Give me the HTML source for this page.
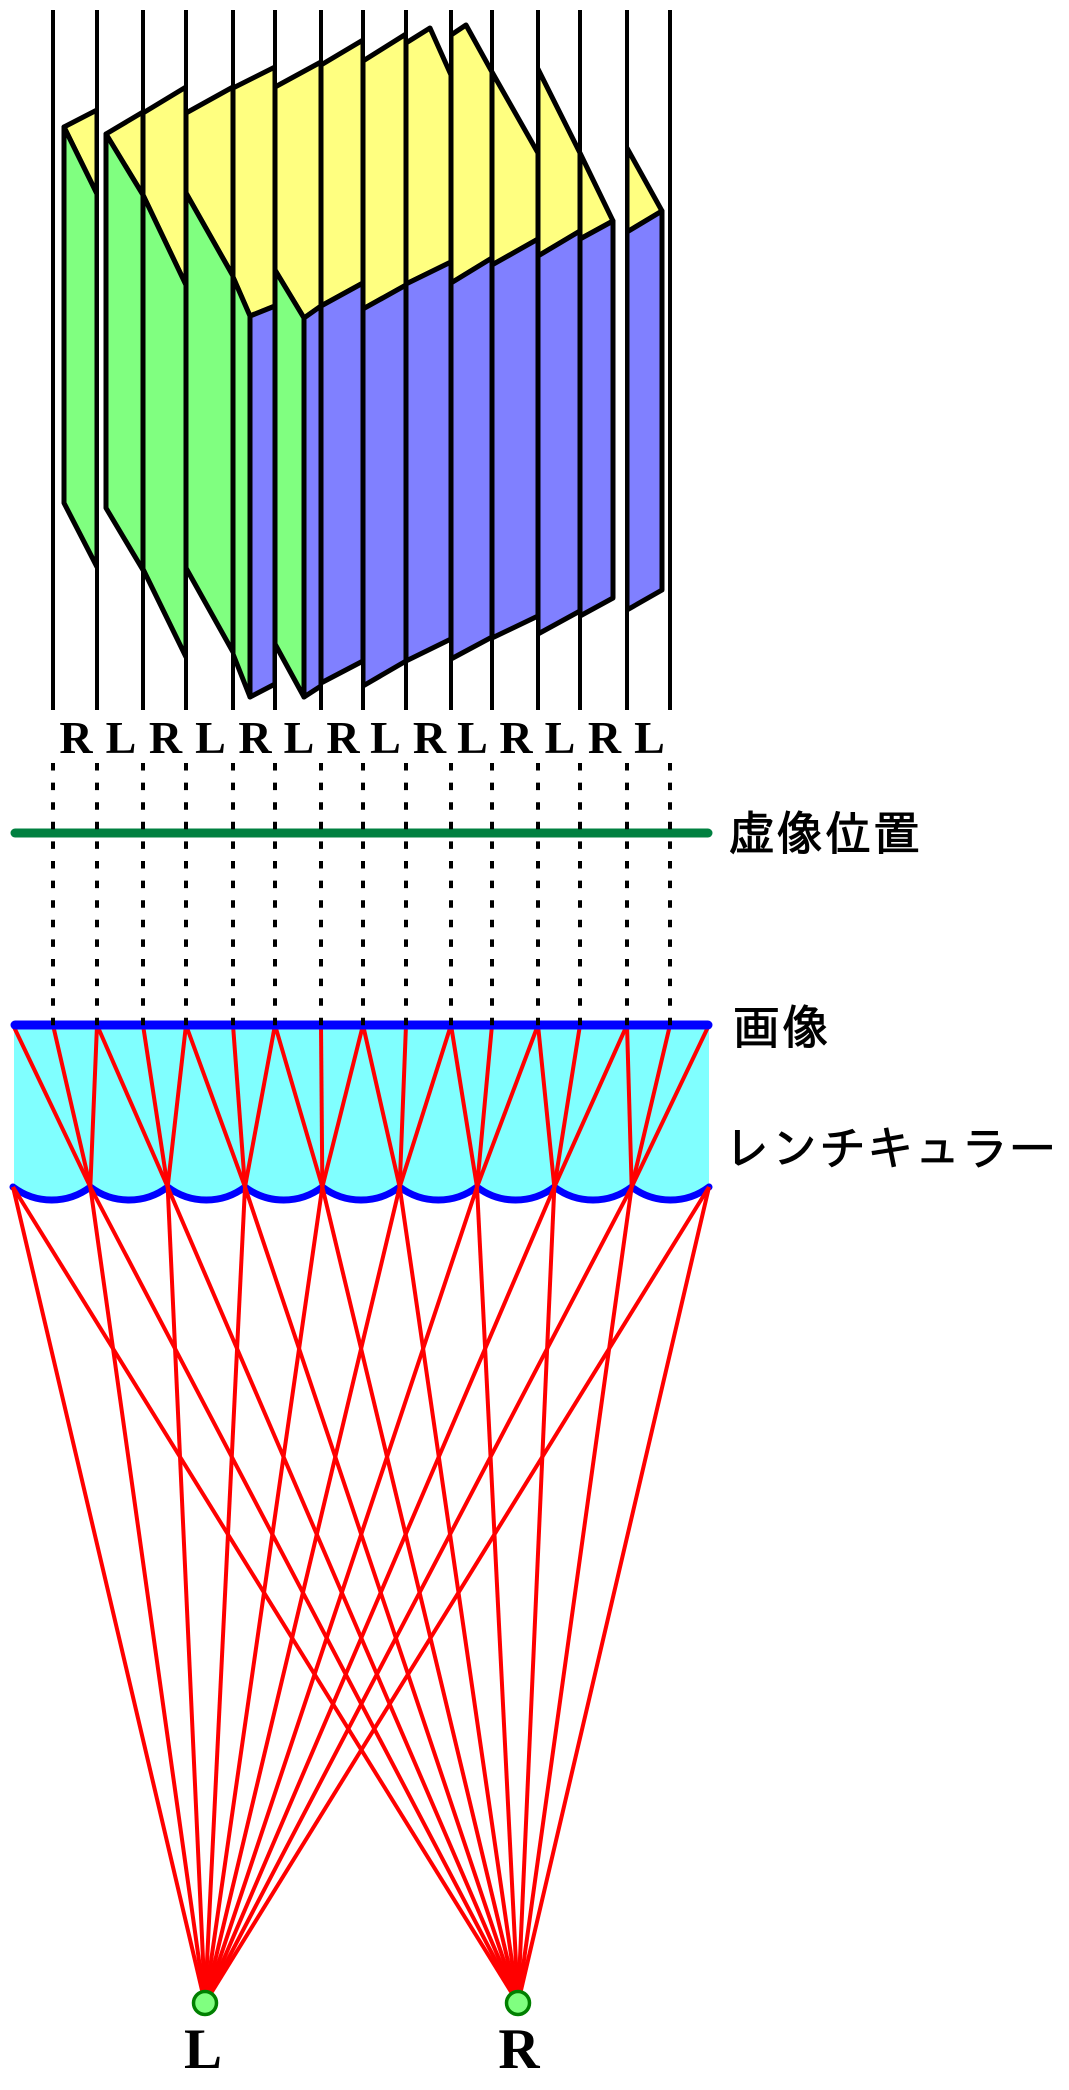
<!DOCTYPE html>
<html>
<head>
<meta charset="utf-8">
<style>
html,body{margin:0;padding:0;background:#fff;}
svg{display:block;}
.lbl{font-family:"Liberation Serif",serif;font-weight:bold;fill:#000;}
.jp{font-family:"Liberation Sans","IPAGothic","Noto Sans CJK JP",sans-serif;fill:#000;}
</style>
</head>
<body>
<svg width="1069" height="2090" viewBox="0 0 1069 2090" xmlns="http://www.w3.org/2000/svg">
<defs>
<clipPath id="s1"><rect x="53" y="0" width="44" height="720"/></clipPath>
<clipPath id="s2"><rect x="97" y="0" width="46" height="720"/></clipPath>
<clipPath id="s3"><rect x="143" y="0" width="43" height="720"/></clipPath>
<clipPath id="s4"><rect x="186" y="0" width="47" height="720"/></clipPath>
<clipPath id="s5"><rect x="233" y="0" width="42" height="720"/></clipPath>
<clipPath id="s6"><rect x="275" y="0" width="46" height="720"/></clipPath>
<clipPath id="s7"><rect x="321" y="0" width="42" height="720"/></clipPath>
<clipPath id="s8"><rect x="363" y="0" width="43" height="720"/></clipPath>
<clipPath id="s9"><rect x="406" y="0" width="45" height="720"/></clipPath>
<clipPath id="s10"><rect x="451" y="0" width="41" height="720"/></clipPath>
<clipPath id="s11"><rect x="492" y="0" width="46" height="720"/></clipPath>
<clipPath id="s12"><rect x="538" y="0" width="42" height="720"/></clipPath>
<clipPath id="s13"><rect x="580" y="0" width="47" height="720"/></clipPath>
<clipPath id="s14"><rect x="627" y="0" width="43" height="720"/></clipPath>
</defs>

<rect x="0" y="0" width="1069" height="2090" fill="#fff"/>

<!-- Box strips -->
<g stroke="#000" stroke-width="5" stroke-linejoin="round">
<g clip-path="url(#s1)">
<polygon fill="#ffff80" points="64,127 97,110 97,194"/>
<polygon fill="#80ff80" points="64,127 97,194 97,567 64,503"/>
</g>
<g clip-path="url(#s2)">
<polygon fill="#ffff80" points="106,134 143,112 143,195"/>
<polygon fill="#80ff80" points="106,134 143,195 143,570 106,508"/>
</g>
<g clip-path="url(#s3)">
<polygon fill="#ffff80" points="143,113 186,87 186,285 143,195"/>
<polygon fill="#80ff80" points="143,195 186,285 186,657 143,569"/>
</g>
<g clip-path="url(#s4)">
<polygon fill="#ffff80" points="186,113 233,87 233,276 186,193"/>
<polygon fill="#80ff80" points="186,193 233,276 233,652 186,568"/>
</g>
<g clip-path="url(#s5)">
<polygon fill="#ffff80" points="233,88 275,67 275,306 250,316 233,277"/>
<polygon fill="#80ff80" points="233,277 250,316 250,697 233,654"/>
<polygon fill="#8080ff" points="250,316 275,306 275,684 250,697"/>
</g>
<g clip-path="url(#s6)">
<polygon fill="#ffff80" points="275,87 321,62 321,306 304,318 275,270"/>
<polygon fill="#80ff80" points="275,270 304,318 304,697 275,644"/>
<polygon fill="#8080ff" points="304,318 321,306 321,686 304,697"/>
</g>
<g clip-path="url(#s7)">
<polygon fill="#ffff80" points="321,65 363,40 363,283 321,306"/>
<polygon fill="#8080ff" points="321,306 363,283 363,661 321,683"/>
</g>
<g clip-path="url(#s8)">
<polygon fill="#ffff80" points="363,61 406,34 406,285 363,309"/>
<polygon fill="#8080ff" points="363,309 406,285 406,661 363,686"/>
</g>
<g clip-path="url(#s9)">
<polygon fill="#ffff80" points="406,43 430,28 451,75 451,262 406,284"/>
<polygon fill="#8080ff" points="406,284 451,262 451,639 406,661"/>
</g>
<g clip-path="url(#s10)">
<polygon fill="#ffff80" points="451,35 466,25 492,72 492,258 451,283"/>
<polygon fill="#8080ff" points="451,283 492,258 492,637 451,659"/>
</g>
<g clip-path="url(#s11)">
<polygon fill="#ffff80" points="492,72 538,153 538,239 492,265"/>
<polygon fill="#8080ff" points="492,265 538,239 538,616 492,638"/>
</g>
<g clip-path="url(#s12)">
<polygon fill="#ffff80" points="538,69 580,153 580,231 538,256"/>
<polygon fill="#8080ff" points="538,256 580,231 580,611 538,634"/>
</g>
<g clip-path="url(#s13)">
<polygon fill="#ffff80" points="580,153 613,221 580,239"/>
<polygon fill="#8080ff" points="580,239 613,221 613,598 580,616"/>
</g>
<g clip-path="url(#s14)">
<polygon fill="#ffff80" points="627,148 662,211 627,232"/>
<polygon fill="#8080ff" points="627,232 662,211 662,590 627,610"/>
</g>
</g>

<!-- Separator lines -->
<g stroke="#000" stroke-width="4">
<line x1="53" y1="10" x2="53" y2="710"/>
<line x1="97" y1="10" x2="97" y2="710"/>
<line x1="143" y1="10" x2="143" y2="710"/>
<line x1="186" y1="10" x2="186" y2="710"/>
<line x1="233" y1="10" x2="233" y2="710"/>
<line x1="275" y1="10" x2="275" y2="710"/>
<line x1="321" y1="10" x2="321" y2="710"/>
<line x1="363" y1="10" x2="363" y2="710"/>
<line x1="406" y1="10" x2="406" y2="710"/>
<line x1="451" y1="10" x2="451" y2="710"/>
<line x1="492" y1="10" x2="492" y2="710"/>
<line x1="538" y1="10" x2="538" y2="710"/>
<line x1="580" y1="10" x2="580" y2="710"/>
<line x1="627" y1="10" x2="627" y2="710"/>
<line x1="670" y1="10" x2="670" y2="710"/>
</g>

<!-- Strip labels -->
<g class="lbl" font-size="46" text-anchor="middle">
<text x="76" y="753">R</text>
<text x="121" y="753">L</text>
<text x="165.5" y="753">R</text>
<text x="210.5" y="753">L</text>
<text x="255" y="753">R</text>
<text x="299" y="753">L</text>
<text x="343" y="753">R</text>
<text x="385.5" y="753">L</text>
<text x="429.5" y="753">R</text>
<text x="472.5" y="753">L</text>
<text x="516" y="753">R</text>
<text x="560" y="753">L</text>
<text x="604.5" y="753">R</text>
<text x="649.5" y="753">L</text>
</g>

<!-- Virtual image line -->
<line x1="15" y1="833" x2="708" y2="833" stroke="#008040" stroke-width="9" stroke-linecap="round"/>

<!-- Lens body -->
<path fill="#80ffff" d="M14,1025 L709,1025 L709,1187 A64,64 0 0 1 631.67,1187 A64,64 0 0 1 554.33,1187 A64,64 0 0 1 477,1187 A64,64 0 0 1 399.67,1187 A64,64 0 0 1 322.33,1187 A64,64 0 0 1 245,1187 A64,64 0 0 1 167.67,1187 A64,64 0 0 1 90.33,1187 A64,64 0 0 1 14,1187 Z"/>
<path fill="none" stroke="#0000ff" stroke-width="7" stroke-linecap="round" d="M13,1187 A64,64 0 0 0 90.33,1187 A64,64 0 0 0 167.67,1187 A64,64 0 0 0 245,1187 A64,64 0 0 0 322.33,1187 A64,64 0 0 0 399.67,1187 A64,64 0 0 0 477,1187 A64,64 0 0 0 554.33,1187 A64,64 0 0 0 631.67,1187 A64,64 0 0 0 709,1187"/>

<!-- Red rays inside lens -->
<g stroke="#ff0000" stroke-width="4">
<line x1="13" y1="1025" x2="90.33" y2="1187"/>
<line x1="53" y1="1025" x2="90.33" y2="1187"/>
<line x1="97" y1="1025" x2="90.33" y2="1187"/>
<line x1="97" y1="1025" x2="167.67" y2="1187"/>
<line x1="143" y1="1025" x2="167.67" y2="1187"/>
<line x1="186" y1="1025" x2="167.67" y2="1187"/>
<line x1="186" y1="1025" x2="245" y2="1187"/>
<line x1="233" y1="1025" x2="245" y2="1187"/>
<line x1="275" y1="1025" x2="245" y2="1187"/>
<line x1="275" y1="1025" x2="322.33" y2="1187"/>
<line x1="321" y1="1025" x2="322.33" y2="1187"/>
<line x1="363" y1="1025" x2="322.33" y2="1187"/>
<line x1="363" y1="1025" x2="399.67" y2="1187"/>
<line x1="406" y1="1025" x2="399.67" y2="1187"/>
<line x1="451" y1="1025" x2="399.67" y2="1187"/>
<line x1="451" y1="1025" x2="477" y2="1187"/>
<line x1="492" y1="1025" x2="477" y2="1187"/>
<line x1="538" y1="1025" x2="477" y2="1187"/>
<line x1="538" y1="1025" x2="554.33" y2="1187"/>
<line x1="580" y1="1025" x2="554.33" y2="1187"/>
<line x1="627" y1="1025" x2="554.33" y2="1187"/>
<line x1="627" y1="1025" x2="631.67" y2="1187"/>
<line x1="670" y1="1025" x2="631.67" y2="1187"/>
<line x1="709" y1="1025" x2="631.67" y2="1187"/>
</g>

<!-- Red rays to eyes -->
<g stroke="#ff0000" stroke-width="4">
<line x1="13" y1="1187" x2="205" y2="2003"/>
<line x1="90.33" y1="1187" x2="205" y2="2003"/>
<line x1="167.67" y1="1187" x2="205" y2="2003"/>
<line x1="245" y1="1187" x2="205" y2="2003"/>
<line x1="322.33" y1="1187" x2="205" y2="2003"/>
<line x1="399.67" y1="1187" x2="205" y2="2003"/>
<line x1="477" y1="1187" x2="205" y2="2003"/>
<line x1="554.33" y1="1187" x2="205" y2="2003"/>
<line x1="631.67" y1="1187" x2="205" y2="2003"/>
<line x1="709" y1="1187" x2="205" y2="2003"/>
<line x1="13" y1="1187" x2="518" y2="2003"/>
<line x1="90.33" y1="1187" x2="518" y2="2003"/>
<line x1="167.67" y1="1187" x2="518" y2="2003"/>
<line x1="245" y1="1187" x2="518" y2="2003"/>
<line x1="322.33" y1="1187" x2="518" y2="2003"/>
<line x1="399.67" y1="1187" x2="518" y2="2003"/>
<line x1="477" y1="1187" x2="518" y2="2003"/>
<line x1="554.33" y1="1187" x2="518" y2="2003"/>
<line x1="631.67" y1="1187" x2="518" y2="2003"/>
<line x1="709" y1="1187" x2="518" y2="2003"/>
</g>

<!-- Image plane line -->
<line x1="15" y1="1025" x2="708" y2="1025" stroke="#0000ff" stroke-width="9" stroke-linecap="round"/>

<!-- Dotted projection lines -->
<g stroke="#000" stroke-width="4" stroke-dasharray="7.5 12.1">
<line x1="53" y1="763" x2="53" y2="1028"/>
<line x1="97" y1="763" x2="97" y2="1028"/>
<line x1="143" y1="763" x2="143" y2="1028"/>
<line x1="186" y1="763" x2="186" y2="1028"/>
<line x1="233" y1="763" x2="233" y2="1028"/>
<line x1="275" y1="763" x2="275" y2="1028"/>
<line x1="321" y1="763" x2="321" y2="1028"/>
<line x1="363" y1="763" x2="363" y2="1028"/>
<line x1="406" y1="763" x2="406" y2="1028"/>
<line x1="451" y1="763" x2="451" y2="1028"/>
<line x1="492" y1="763" x2="492" y2="1028"/>
<line x1="538" y1="763" x2="538" y2="1028"/>
<line x1="580" y1="763" x2="580" y2="1028"/>
<line x1="627" y1="763" x2="627" y2="1028"/>
<line x1="670" y1="763" x2="670" y2="1028"/>
</g>

<!-- Eyes -->
<circle cx="205" cy="2003" r="11.5" fill="#80ff80" stroke="#008000" stroke-width="3.5"/>
<circle cx="518" cy="2003" r="11.5" fill="#80ff80" stroke="#008000" stroke-width="3.5"/>
<g class="lbl" font-size="57" text-anchor="middle">
<text x="203" y="2068">L</text>
<text x="519" y="2068">R</text>
</g>

<!-- Japanese labels -->
<text class="jp" x="728" y="850" font-size="47" stroke="#000" stroke-width="1" textLength="192" lengthAdjust="spacing">虚像位置</text>
<text class="jp" x="733" y="1044" font-size="47" stroke="#000" stroke-width="1" textLength="96" lengthAdjust="spacing">画像</text>
<text class="jp" x="724" y="1165" font-size="47" stroke="#000" stroke-width="0.8" textLength="332" lengthAdjust="spacing">レンチキュラー</text>
</svg>
</body>
</html>
